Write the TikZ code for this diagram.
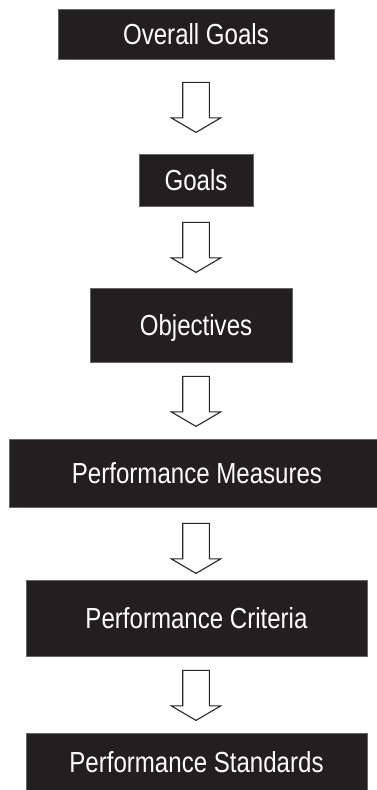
\documentclass[tikz,border=0pt]{standalone}
\usepackage{fontspec}
\setmainfont{Liberation Sans}[FakeStretch=0.83]
\usetikzlibrary{calc}
\definecolor{boxfill}{HTML}{231F20}
\begin{document}
\begin{tikzpicture}[x=1pt,y=-1pt,
  stage/.style={rectangle, draw=black!60, line width=0.8pt, fill=boxfill,
    text=white, inner sep=0pt, font=\fontsize{29}{32}\selectfont,
    text height=20.8pt, text depth=0pt},
  flowarrow/.style={draw=black!85, line width=1.1pt, fill=white, line join=miter},
  blockarrow/.pic={
    \draw[flowarrow] (-13.3,0) -- (13.3,0) -- (13.3,35.5) -- (24.7,35.5)
      -- (0,50) -- (-24.7,35.5) -- (-13.3,35.5) -- cycle;
  }]
\useasboundingbox (0,0) rectangle (377,790);
\clip (0,0) rectangle (377,790);

% stages of the hierarchy
\node[stage, minimum width=276pt, minimum height=50pt] (overall) at (196,34) {Overall Goals};
\node[stage, minimum width=114pt, minimum height=52pt] (goals) at (196,180) {Goals};
\node[stage, minimum width=202pt, minimum height=74pt] (objectives) at (191,325) {\hspace*{10pt}Objectives};
\node[stage, minimum width=376pt, minimum height=68pt] (measures) at (197,473) {Performance Measures};
\node[stage, minimum width=341pt, minimum height=76pt] (criteria) at (196.5,618) {Performance Criteria};
\node[stage, minimum width=341pt, minimum height=58pt] (standards) at (196.5,762) {Performance Standards};

% hollow arrows between the stages
\pic at ($(overall.south)+(0,23)$) {blockarrow};
\pic at ($(goals.south)+(0,16)$) {blockarrow};
\pic at ($(goals.south |- objectives.south)+(0,14)$) {blockarrow};
\pic at ($(goals.south |- measures.south)+(0,16)$) {blockarrow};
\pic at ($(goals.south |- criteria.south)+(0,14)$) {blockarrow};
\end{tikzpicture}
\end{document}
